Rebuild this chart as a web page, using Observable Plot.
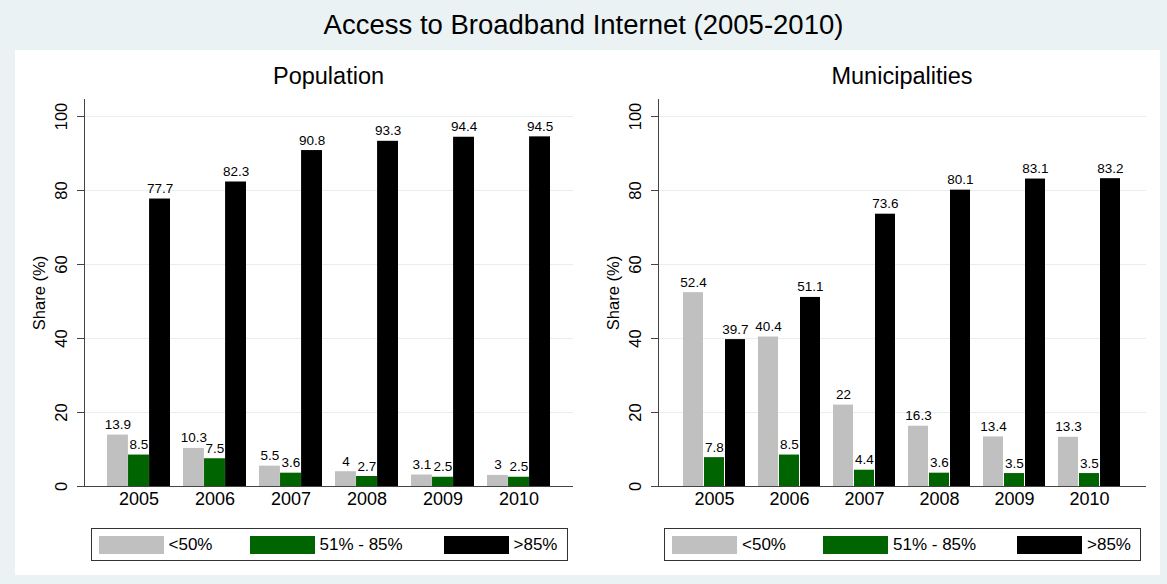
<!DOCTYPE html>
<html>
<head>
<meta charset="utf-8">
<script src="https://cdn.jsdelivr.net/npm/d3@7"></script>
<script src="https://cdn.jsdelivr.net/npm/@observablehq/plot@0.6"></script>
<style>
  html, body { margin: 0; padding: 0; }
  body { width: 1167px; height: 584px; background: #eaf2f3; position: relative; overflow: hidden;
         font-family: "Liberation Sans", Arial, Helvetica, sans-serif; color: #000; }
  .abs { position: absolute; }
  #white { left: 15px; top: 50px; width: 1145px; height: 525px; background: #fff; }
  #title { left: 0; width: 1167px; top: 8px; text-align: center; font-size: 27.5px; line-height: 34px; }
  .sub { text-align: center; font-size: 23.5px; line-height: 28px; top: 62px; width: 400px; }
  .legend { top: 528px; width: 475px; height: 31px; border: 1px solid #333; background: #fff; font-size: 17px; }
  .sw { position: absolute; top: 7px; width: 65px; height: 18px; }
  .lt { position: absolute; top: 5px; line-height: 22px; white-space: nowrap; }
</style>
</head>
<body>
<div id="white" class="abs"></div>
<div id="title" class="abs">Access to Broadband Internet (2005-2010)</div>
<div id="p1" class="abs" style="left:0px; top:92px;"></div>
<div id="p2" class="abs" style="left:574px; top:92px;"></div>
<script>
// ---- data ----
const years = ["2005", "2006", "2007", "2008", "2009", "2010"];
const seriesNames = ["<50%", "51% - 85%", ">85%"];
const seriesColors = ["#c0c0c0", "#006400", "#000000"];
const yTicks = [0, 20, 40, 60, 80, 100];

const popLow  = [13.9, 10.3, 5.5, 4, 3.1, 3];
const popMid  = [8.5, 7.5, 3.6, 2.7, 2.5, 2.5];
const popHigh = [77.7, 82.3, 90.8, 93.3, 94.4, 94.5];

const munLow  = [52.4, 40.4, 22, 16.3, 13.4, 13.3];
const munMid  = [7.8, 8.5, 4.4, 3.6, 3.5, 3.5];
const munHigh = [39.7, 51.1, 73.6, 80.1, 83.1, 83.2];

const FONT = '"Liberation Sans", Arial, Helvetica, sans-serif';

function panel(containerId, pageLeft, subtitle, low, mid, high, marginRight) {
  const W = 580, mL = 84, mT = 7, mB = 30, plotH = 387;
  const H = mT + plotH + mB;
  const pInner = 0.17, pOuter = 0.3;
  const plotW = W - mL - marginRight;
  const step = plotW / (years.length - pInner + 2 * pOuter);
  const third = step * (1 - pInner) / 3;
  const cols = [low, mid, high];
  const rows = years.map((y, i) => ({year: y, v0: low[i], v1: mid[i], v2: high[i]}));

  const marks = [
    Plot.ruleY(yTicks.filter(d => d > 0), {stroke: "#e6eff0", strokeWidth: 1.2})
  ];
  cols.forEach((c, k) => {
    const key = "v" + k;
    marks.push(Plot.barY(rows, {x: "year", y: key, fill: seriesColors[k],
      insetLeft: k * third, insetRight: (2 - k) * third}));
  });
  cols.forEach((c, k) => {
    const key = "v" + k;
    marks.push(Plot.text(rows, {x: "year", y: key, text: d => String(d[key]),
      dx: (k - 1) * third, dy: -6, lineAnchor: "bottom", fontSize: 13.5, fill: "#000"}));
  });
  marks.push(
    Plot.axisX({tickSize: 0, tickPadding: 6, fontSize: 18, label: null}),
    Plot.axisY(yTicks, {tickSize: 7, tickFormat: () => "", label: null, stroke: "#444"}),
    Plot.text(yTicks, {y: d => d, text: d => String(d), frameAnchor: "left", dx: -23,
      rotate: -90, textAnchor: "middle", lineAnchor: "middle", fontSize: 16.5}),
    Plot.text(["Share (%)"], {frameAnchor: "left", dx: -45, rotate: -90,
      textAnchor: "middle", lineAnchor: "middle", fontSize: 16.5}),
    Plot.ruleY([0], {stroke: "#444"}),
    Plot.frame({anchor: "left", stroke: "#444"})
  );

  const chart = Plot.plot({
    width: W, height: H,
    marginLeft: mL, marginRight: marginRight, marginTop: mT, marginBottom: mB,
    style: {fontFamily: FONT, fontSize: "18px", color: "#000", background: "transparent", overflow: "visible"},
    x: {type: "band", domain: years, paddingInner: pInner, paddingOuter: pOuter},
    y: {domain: [0, 104.6]},
    marks
  });
  document.getElementById(containerId).appendChild(chart);

  // subtitle and legend positioned relative to plot area
  const center = pageLeft + mL + plotW / 2;
  const sub = document.createElement("div");
  sub.className = "abs sub";
  sub.style.left = (center - 200) + "px";
  sub.textContent = subtitle;
  document.body.appendChild(sub);

  const leg = document.createElement("div");
  leg.className = "abs legend";
  leg.style.left = (center - 238) + "px";
  const swLeft = [7, 158, 352];
  const txLeft = [77, 228, 422];
  seriesNames.forEach((n, k) => {
    const s = document.createElement("div");
    s.className = "sw";
    s.style.left = swLeft[k] + "px";
    s.style.background = seriesColors[k];
    leg.appendChild(s);
    const t = document.createElement("div");
    t.className = "lt";
    t.style.left = txLeft[k] + "px";
    t.textContent = n;
    leg.appendChild(t);
  });
  document.body.appendChild(leg);
}

panel("p1", 0, "Population", popLow, popMid, popHigh, 7);
panel("p2", 574, "Municipalities", munLow, munMid, munHigh, 8);
</script>
</body>
</html>
